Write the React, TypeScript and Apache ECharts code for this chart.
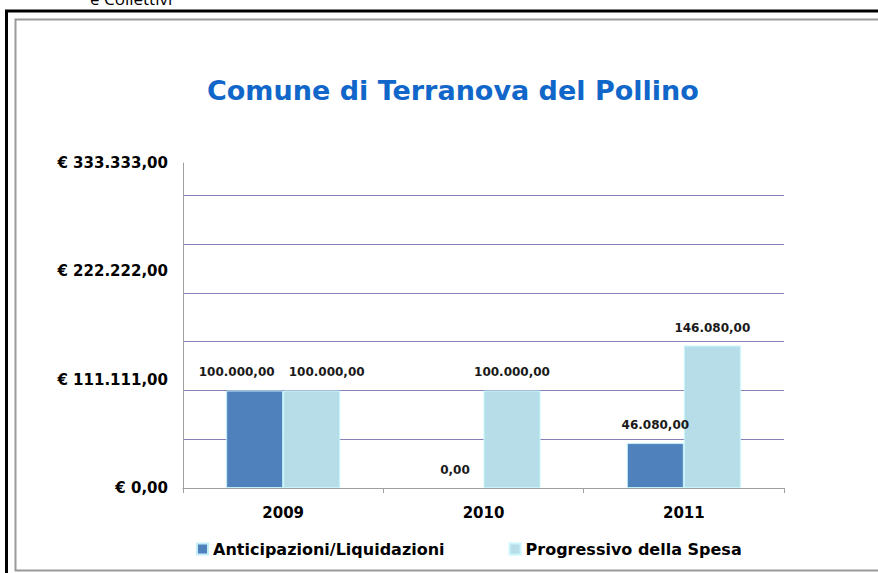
import React, { useEffect, useRef } from "react";
import * as echarts from "echarts";

const categories = ["2009", "2010", "2011"];
const anticipazioni = [100000, 0, 46080];
const progressivo = [100000, 100000, 146080];
const seriesNames = ["Anticipazioni/Liquidazioni", "Progressivo della Spesa"];
const titleText = "Comune di Terranova del Pollino";
const headerText = "e Collettivi";
const axisMax = 333333;
const labelInterval = 111111;
const gridInterval = 50000;

const FONT = "DejaVu Sans";

function fmt(v: number): string {
  const n = Math.round(v);
  const s = String(n).replace(/\B(?=(\d{3})+(?!\d))/g, ".");
  return s + ",00";
}

export default function App() {
  const ref = useRef<HTMLDivElement>(null);
  useEffect(() => {
    if (!ref.current) return;
    const chart = echarts.init(ref.current, null, { renderer: "svg" });
    const mkData = (arr: number[], dx: number) =>
      arr.map((v, i) => {
        const item: any = { value: v };
        if (i === 0) item.label = { offset: [dx, 0] };
        if (v === 0) item.itemStyle = { borderWidth: 0 };
        return item;
      });
    const labelCfg = {
      show: true,
      position: "top",
      distance: 12,
      fontFamily: FONT,
      fontSize: 12,
      fontWeight: "bold",
      color: "#1a1a1a",
      formatter: (p: any) => fmt(p.value),
    };
    chart.setOption({
      animation: false,
      backgroundColor: "#ffffff",
      textStyle: { fontFamily: FONT },
      title: {
        text: titleText,
        left: 202,
        top: 72,
        textStyle: {
          fontFamily: FONT,
          fontSize: 27,
          fontWeight: "bold",
          color: "#1167c9",
        },
      },
      graphic: [
        {
          type: "rect",
          shape: { x: 6.5, y: 11, width: 900, height: 620 },
          style: { fill: "none", stroke: "#000000", lineWidth: 3 },
          silent: true,
        },
        {
          type: "rect",
          shape: { x: 15.5, y: 19.5, width: 900, height: 551 },
          style: { fill: "none", stroke: "#9a9a9a", lineWidth: 2 },
          silent: true,
        },
        {
          type: "text",
          x: 90,
          y: 7,
          style: {
            text: headerText,
            fontFamily: "Open Sans",
            fontSize: 17,
            fill: "#000000",
            textVerticalAlign: "bottom",
          },
          silent: true,
        },
      ],
      legend: {
        left: 191,
        top: 536,
        itemWidth: 11,
        itemHeight: 11,
        itemGap: 64,
        icon: "rect",
        textStyle: {
          fontFamily: FONT,
          fontSize: 16,
          fontWeight: "bold",
          color: "#000000",
        },
        data: seriesNames,
      },
      grid: { left: 183, right: 94, top: 163, bottom: 85, containLabel: false },
      xAxis: {
        type: "category",
        data: categories,
        axisLine: { show: true, lineStyle: { color: "#a0a0a0", width: 1 } },
        axisTick: { show: true, length: 5, lineStyle: { color: "#a0a0a0" } },
        axisLabel: {
          margin: 17,
          fontFamily: FONT,
          fontSize: 15,
          fontWeight: "bold",
          color: "#000000",
        },
      },
      yAxis: [
        {
          type: "value",
          min: 0,
          max: axisMax,
          interval: gridInterval,
          axisLine: { show: true, lineStyle: { color: "#a0a0a0", width: 1 } },
          axisTick: { show: false },
          axisLabel: { show: false },
          splitLine: {
            show: true,
            showMinLine: false,
            showMaxLine: false,
            lineStyle: { color: "#8583b6", width: 1 },
          },
        },
        {
          type: "value",
          position: "left",
          min: 0,
          max: axisMax,
          interval: labelInterval,
          axisLine: { show: false },
          axisTick: { show: false },
          splitLine: { show: false },
          axisLabel: {
            margin: 15,
            fontFamily: FONT,
            fontSize: 15,
            fontWeight: "bold",
            color: "#000000",
            formatter: (v: number) => "€ " + fmt(v),
          },
        },
      ],
      series: [
        {
          name: seriesNames[0],
          type: "bar",
          yAxisIndex: 0,
          barWidth: 57,
          barGap: "0%",
          data: mkData(anticipazioni, -18),
          itemStyle: { color: "#4f81bd", borderColor: "#c3eef7", borderWidth: 1 },
          label: labelCfg,
        },
        {
          name: seriesNames[1],
          type: "bar",
          yAxisIndex: 0,
          barWidth: 57,
          barGap: "0%",
          data: mkData(progressivo, 15),
          itemStyle: { color: "#b7dee8", borderColor: "#c8f6fc", borderWidth: 1 },
          label: labelCfg,
        },
      ],
    });
    return () => chart.dispose();
  }, []);
  return (
    <div
      ref={ref}
      style={{ position: "fixed", left: 0, top: 0, width: 878, height: 573 }}
    />
  );
}
